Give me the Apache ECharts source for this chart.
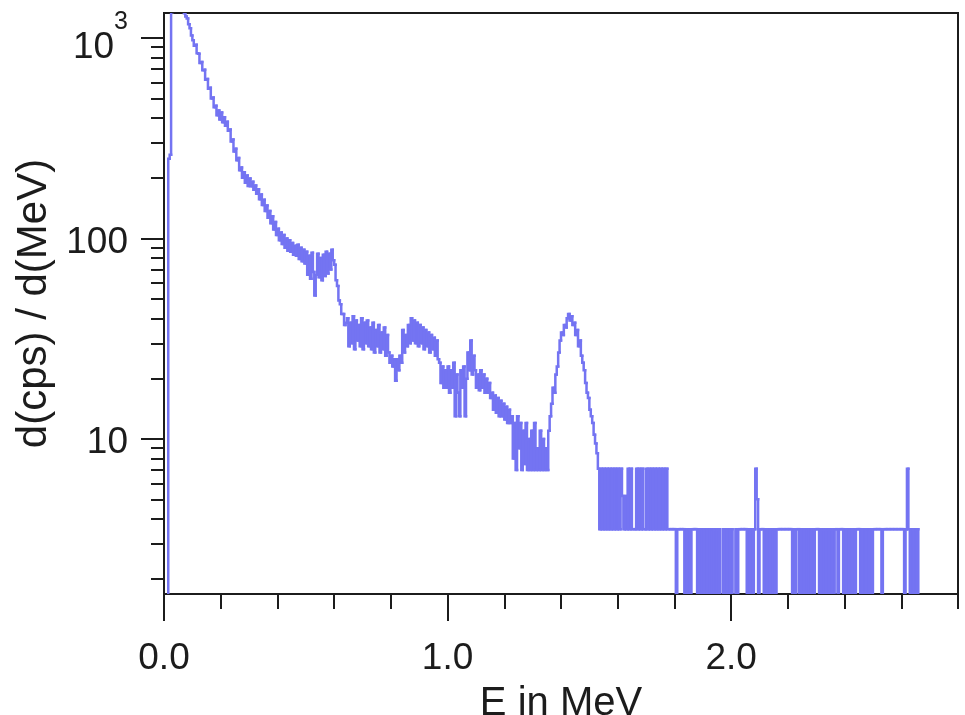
<!DOCTYPE html>
<html>
<head>
<meta charset="utf-8">
<script src="https://cdn.jsdelivr.net/npm/echarts@6/dist/echarts.min.js"></script>
<style>
html,body{margin:0;padding:0;background:#ffffff;}
#chart{width:965px;height:715px;}
</style>
</head>
<body>
<div id="chart"></div>
<script>
// ---- data (gamma spectrum, one value per 0.005 MeV channel) ----
const channelWidth = 0.005;          // MeV per channel
const L0 = 1, L1 = 3.55, L2 = 7.1;   // zero / one / two counts levels

// 0.000 - 0.495 MeV
const seg0 = [L0,L0,L0,250,262,1350,1420,1460,1400,1480,
  1430,1390,1450,1370,1330,1280,1250,1170,1120,1030,
  975,915,925,840,835,750,760,690,695,620,
  625,558,565,500,505,452,460,412,435,392,
  425,380,402,365,382,345,350,305,312,272,
  280,246,252,219,226,201,214,190,206,183,
  199,182,192,175,184,167,176,157,166,147,
  156,137,146,127,137,119,129,111,121,104,
  112,98,107,94,104,90,100,87,98,86,
  95,83,92,82,93,79,90,77,88,75];
// 0.500 - 0.995 MeV
const seg1 = [86,66,82,63,85,68,52,66,84,64,
  80,62,83,65,86,67,84,70,88,78,
  74,62,58,49,47,42,42,37,38,40,
  29,38,30,41,28,39,31,37,29,40,
  28,38,30,39,29,36,28,38,27,35,
  29,37,27,34,28,36,26,33,27,24,
  26,23,25,19.5,25,22,26,24,35,27,
  33,29,37,30,40,31,39,30,38,29,
  37,30,36,28,35,29,34,27,33,28,
  32,26,31,25,24,19,23,18,22,18];
// 1.000 - 1.495 MeV
const seg2 = [23,17,22,18,24,13,21,17,13,22,
  18,23,13,20,27,22,31,21,26,22,
  18,21,17.5,22,18,21,17,20,17,19,
  16,17,14,16.5,13.5,16,13,15.5,13,15,
  12.5,14.5,12,14,12,13,8,12,7,13,
  9,12,7,11,7.5,12,7,10,7,11,
  7,12,7,9,7,11,7,10,7,9,
  7,11,13,15,18,17,21,23,27,31,
  34,33,37,36,40,42,39,41,37,38,
  33,35,29,31,26,24,22,19,17,16];
// 1.500 - 1.995 MeV
const seg3 = [14,13,12,10.5,9.5,8.5,7.1,L1,L2,L1,
  L2,L1,L2,L1,L2,L1,L2,L1,L2,L1,
  L2,L1,L2,5.2,L1,5.2,L1,L2,L1,L2,
  L1,L1,L1,L2,L1,L2,L1,L2,L1,L1,
  L2,L1,L2,L1,L2,L1,L2,L1,L2,L1,
  L2,L1,L2,L1,L2,L1,L1,L1,L1,L1,
  L1,L0,L1,L1,L1,L1,L1,L0,L1,L0,
  L1,L0,L1,L1,L1,L1,L0,L1,L0,L1,
  L0,L1,L0,L1,L0,L1,L0,L1,L0,L1,
  L0,L1,L0,L0,L1,L0,L1,L0,L1,L0];
// 2.000 - 2.495 MeV
const seg4 = [L1,L0,L0,L1,L0,L1,L1,L1,L1,L1,
  L1,L0,L1,L0,L1,L0,L1,L2,5.0,L0,
  L1,L1,L1,L0,L1,L0,L1,L0,L1,L0,
  L1,L0,L1,L1,L1,L1,L1,L1,L1,L1,
  L1,L1,L1,L0,L1,L0,L1,L1,L0,L1,
  L0,L1,L0,L1,L0,L1,L0,L1,L0,L1,
  L1,L1,L0,L1,L0,L1,L0,L1,L0,L1,
  L0,L1,L0,L1,L1,L0,L1,L1,L1,L0,
  L1,L0,L1,L0,L1,L0,L1,L0,L1,L1,
  L1,L0,L1,L0,L1,L0,L1,L0,L1,L0];
// 2.500 - 2.795 MeV
const seg5 = [L1,L1,L1,L1,L1,L1,L0,L1,L1,L1,
  L1,L1,L1,L1,L1,L1,L1,L1,L1,L1,
  L1,L1,L0,L1,L2,L1,L0,L1,L0,L1,
  L0,L1,L0,L0,L0,L0,L0,L0,L0,L0,
  L0,L0,L0,L0,L0,L0,L0,L0,L0,L0,
  L0,L0,L0,L0,L0,L0,L0,L0,L0,L0];

// ---- axes ----
const xMin = 0, xMax = 2.8;
const yMin = 1.686, yMax = 1333;
const xMajorTicks = [0, 1, 2];
const xMinorTicks = [0.2,0.4,0.6,0.8,1.2,1.4,1.6,1.8,2.2,2.4,2.6,2.8];
const yMajorTicks = [10, 100, 1000];
const yMinorTicks = [2,3,4,5,6,7,8,9,20,30,40,50,60,70,80,90,200,300,400,500,600,700,800,900];

const values = seg0.concat(seg1, seg2, seg3, seg4, seg5);
const spectrum = values.map((v, i) => [i * channelWidth, v]);

const FONT = 'Liberation Sans, Arial, sans-serif';
const INK = '#1c1c1c';
const LINE = '#7474f2';

// histogram step drawn per channel through the axes (api.coord)
function renderChannel(params, api) {
  const i = params.dataIndex;
  const e = api.value(0);
  const v = api.value(1);
  const prev = i > 0 ? spectrum[i - 1][1] : v;
  const p0 = api.coord([e, prev]);
  const p1 = api.coord([e, v]);
  const p2 = api.coord([e + channelWidth, v]);
  const cs = params.coordSys;
  return {
    type: 'polyline',
    shape: {points: [p0, p1, p2]},
    style: {stroke: LINE, lineWidth: 2.5, fill: null, lineJoin: 'miter', lineCap: 'square'},
    clipPath: {type: 'rect', shape: {x: cs.x, y: cs.y, width: cs.width, height: cs.height}},
    silent: true
  };
}

const chart = echarts.init(document.getElementById('chart'), null, {renderer: 'canvas'});
chart.setOption({
  animation: false,
  backgroundColor: '#ffffff',
  grid: {left: 164, right: 7, top: 13, bottom: 121, show: true, outerBoundsMode: 'none',
         borderColor: INK, borderWidth: 2, backgroundColor: 'transparent', containLabel: false},
  xAxis: [{
    type: 'value', min: xMin, max: xMax, interval: 1,
    axisLine: {show: true, onZero: false, lineStyle: {color: INK, width: 2}},
    axisTick: {show: true, customValues: xMajorTicks, length: 27, lineStyle: {color: INK, width: 2}},
    axisLabel: {customValues: xMajorTicks, formatter: v => Number(v).toFixed(1),
                margin: 46, fontSize: 37, fontFamily: FONT, color: INK},
    splitLine: {show: false},
    name: 'E in MeV', nameLocation: 'middle', nameGap: 90,
    nameTextStyle: {fontSize: 40, fontFamily: FONT, color: INK}
  }, {
    type: 'value', min: xMin, max: xMax, position: 'bottom',
    axisLine: {show: false},
    axisTick: {show: true, customValues: xMinorTicks, length: 15, lineStyle: {color: INK, width: 2}},
    axisLabel: {show: false}, splitLine: {show: false}
  }],
  yAxis: [{
    type: 'log', logBase: 10, min: yMin, max: yMax,
    axisLine: {show: true, onZero: false, lineStyle: {color: INK, width: 2}},
    axisTick: {show: true, customValues: yMajorTicks, length: 23, lineStyle: {color: INK, width: 2}},
    axisLabel: {
      customValues: yMajorTicks, margin: 36, color: INK, fontFamily: FONT, fontSize: 37,
      formatter: v => Math.round(v) === 1000 ? '{b|10}{s|3}' : '{n|' + String(Math.round(v)) + '}',
      rich: {
        n: {fontSize: 37, fontFamily: FONT, color: INK, padding: [8, 0, 0, 0]},
        b: {fontSize: 37, fontFamily: FONT, color: INK, verticalAlign: 'bottom', padding: [20, 0, 0, 0]},
        s: {fontSize: 25, fontFamily: FONT, color: INK, verticalAlign: 'top'}
      }
    },
    splitLine: {show: false},
    name: 'd(cps) / d(MeV)', nameLocation: 'middle', nameGap: 86,
    nameTextStyle: {fontSize: 42, fontFamily: FONT, color: INK}
  }, {
    type: 'log', logBase: 10, min: yMin, max: yMax, position: 'left',
    axisLine: {show: false},
    axisTick: {show: true, customValues: yMinorTicks, length: 13, lineStyle: {color: INK, width: 2}},
    axisLabel: {show: false}, splitLine: {show: false}
  }],
  series: [{
    type: 'custom', coordinateSystem: 'cartesian2d', xAxisIndex: 0, yAxisIndex: 0,
    data: spectrum, renderItem: renderChannel, clip: true,
    encode: {x: 0, y: 1}
  }]
});
</script>
</body>
</html>
